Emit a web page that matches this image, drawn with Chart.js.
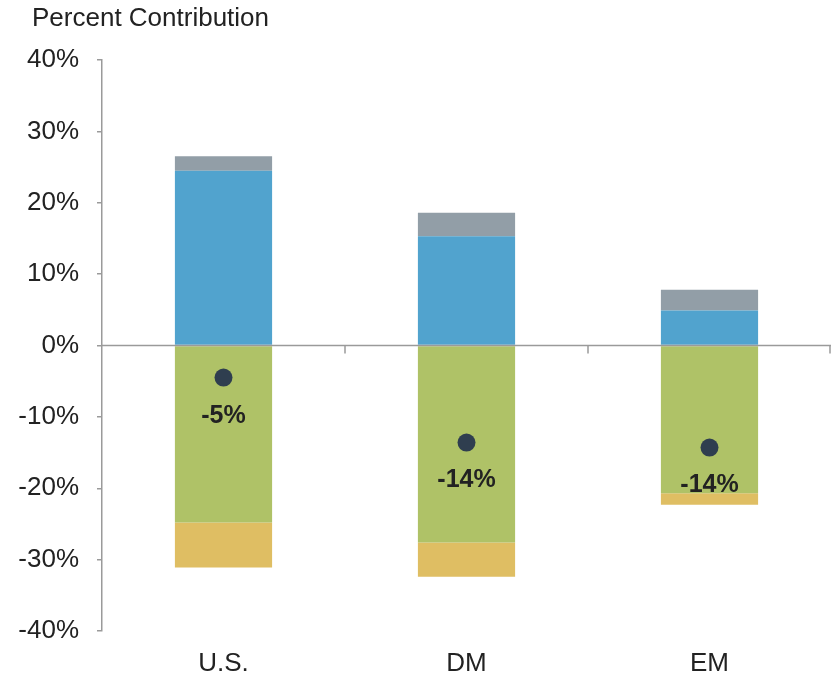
<!DOCTYPE html>
<html>
<head>
<meta charset="utf-8">
<script src="https://cdn.jsdelivr.net/npm/chart.js@4/dist/chart.umd.min.js"></script>
<style>
  html, body { margin: 0; padding: 0; background: #fff; }
  #wrap { width: 831px; height: 676px; position: relative; }
</style>
</head>
<body>
<div id="wrap"><canvas id="c"></canvas></div>
<script>
// ---- values ----
var CATS = ["U.S.", "DM", "EM"];
var BLUE = [24.5, 15.3, 4.9];
var GRAY = [2.0, 3.3, 2.9];
var GREEN = [-24.8, -27.6, -20.7];
var YELLOW = [-6.3, -4.8, -1.6];
var DOTS = [-4.5, -13.6, -14.3];
var DOT_LABELS = ["-5%", "-14%", "-14%"];
var Y_MIN = -40, Y_MAX = 40, Y_STEP = 10;

Chart.defaults.font.family = "'Liberation Sans', Arial, sans-serif";
Chart.defaults.color = "#222";

var AXIS = "#9a9a9a";

// zero line, category ticks on it, dot labels and title
var extras = {
  id: "extras",
  afterDatasetsDraw: function (chart) {
    var ctx = chart.ctx, x = chart.scales.x, y = chart.scales.y, a = chart.chartArea;
    var y0 = y.getPixelForValue(0);
    ctx.save();
    ctx.strokeStyle = AXIS; ctx.lineWidth = 1.5;
    ctx.beginPath();
    ctx.moveTo(a.left, y0); ctx.lineTo(a.right, y0);
    for (var i = 0; i < CATS.length; i++) {
      var tx = Math.min(Math.round(x.getPixelForValue(i + 0.5)), a.right - 1);
      ctx.moveTo(tx, y0); ctx.lineTo(tx, y0 + 8);
    }
    ctx.stroke();

    var meta = chart.getDatasetMeta(4);
    ctx.fillStyle = "#222";
    ctx.font = "bold 25px 'Liberation Sans', Arial, sans-serif";
    ctx.textAlign = "center"; ctx.textBaseline = "middle";
    meta.data.forEach(function (p, i) {
      ctx.fillText(DOT_LABELS[i], p.x, p.y + 38);
    });

    ctx.font = "26px 'Liberation Sans', Arial, sans-serif";
    ctx.textAlign = "left";
    ctx.fillText("Percent Contribution", 32, 19);
    ctx.restore();
  }
};

function bars(data, color) {
  return { type: "bar", data: data, backgroundColor: color, stack: "s",
    barPercentage: 0.4, categoryPercentage: 1, borderWidth: 0 };
}

new Chart(document.getElementById("c"), {
  data: {
    labels: CATS,
    datasets: [
      bars(BLUE, "#51a3ce"),
      bars(GRAY, "#929ea7"),
      bars(GREEN, "#afc267"),
      bars(YELLOW, "#dfbe63"),
      { type: "line", data: DOTS, stack: "dots", order: -1, showLine: false,
        pointRadius: 9, pointHoverRadius: 9, pointBackgroundColor: "#2f3e4f",
        pointBorderWidth: 0, borderColor: "#2f3e4f" }
    ]
  },
  options: {
    responsive: true, maintainAspectRatio: false, animation: false,
    layout: { autoPadding: false, padding: { top: 60, right: 0, bottom: 0, left: 0 } },
    plugins: { legend: { display: false }, tooltip: { enabled: false } },
    scales: {
      x: {
        stacked: true,
        afterFit: function (s) { s.height = 45; s.paddingLeft = 0; s.paddingRight = 0; },
        grid: { display: false, drawTicks: false },
        border: { display: false },
        ticks: { font: { size: 26 }, padding: 17, color: "#222" }
      },
      y: {
        stacked: true, min: Y_MIN, max: Y_MAX,
        afterFit: function (s) { s.width = 102; },
        grid: { drawOnChartArea: false, tickLength: 5, tickColor: AXIS, lineWidth: 1.5 },
        border: { display: true, color: AXIS, width: 1.5 },
        ticks: { stepSize: Y_STEP, font: { size: 26 }, padding: 18, color: "#222",
          callback: function (v) { return v + "%"; } }
      }
    }
  },
  plugins: [extras]
});
</script>
</body>
</html>
